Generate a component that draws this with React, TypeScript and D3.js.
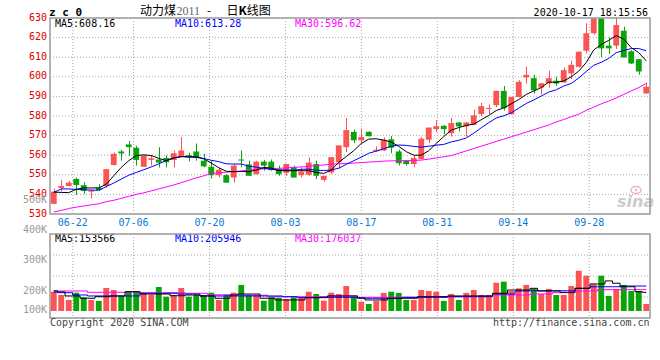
import React from "react";
import * as d3 from "d3";

const dates = [
  "06-17","06-18","06-19","06-22","06-23","06-24","06-29","06-30","07-01","07-02","07-03",
  "07-06","07-07","07-08","07-09","07-10","07-13","07-14","07-15","07-16","07-17",
  "07-20","07-21","07-22","07-23","07-24","07-27","07-28","07-29","07-30","07-31",
  "08-03","08-04","08-05","08-06","08-07","08-10","08-11","08-12","08-13","08-14",
  "08-17","08-18","08-19","08-20","08-21","08-24","08-25","08-26","08-27","08-28",
  "08-31","09-01","09-02","09-03","09-04","09-07","09-08","09-09","09-10","09-11",
  "09-14","09-15","09-16","09-17","09-18","09-21","09-22","09-23","09-24","09-25",
  "09-28","09-29","09-30","10-09","10-12","10-13","10-14","10-15","10-16"
];

const openP = [
  535.2,543.3,544.3,547.9,544.7,541.4,543.4,544.3,555,561.9,
  565.5,563.8,554.1,557.6,557.8,558.6,557.6,559,560,561.9,
  557.2,554.1,549.8,549.8,548.6,557.8,555.3,550.3,556.7,556.7,
  552.9,551,553.8,549.8,550,555.5,547.4,551.2,556.4,564.1,
  571.9,567.6,571.9,562.1,562.4,568.1,561.9,557.2,555.5,558.1,
  567.9,573.3,575,571.2,576.7,574.7,575.5,581,583.8,585.5,
  592.8,581,589.7,599.7,599.3,594.5,596.7,598,597.1,601.7,
  605.1,613.3,622.2,629.8,615.9,615.9,623.5,613,609,591.5
];
const highP = [
  543,547.4,546.9,548.6,546.2,542.6,545.2,553,561.4,562.8,
  567.2,564.8,559.9,560,564.1,559.8,562.4,569.3,561.2,566,
  560.7,557.2,553.8,550.3,555.5,562.4,557.2,557.2,557.6,557.8,
  554.7,555.8,554.7,553.8,559,557.2,549.5,559,565,579,
  573.1,573.6,572.2,564.5,569,569.7,562.8,557.6,559.8,569.3,
  574.1,577.9,575.3,579,576.9,576.8,583.3,586.7,585.9,592.9,
  595.3,589.8,598.3,605.2,601,596.8,603.1,600,604.8,608.2,
  612.9,627.3,630,630,620.1,630,625.6,613.6,609.1,597.1
];
const lowP = [
  535,541.4,544,539.7,540.3,537.8,541.7,543.4,554.7,557.2,
  559.7,554.7,554,554.7,553.8,553.8,553.8,559,556.9,557.2,
  553.8,548.1,548.6,546,546,553.8,549.5,550.3,552.1,552.1,
  549.5,549.5,548.6,548.6,549.5,547.8,546.5,550.3,553,561.6,
  566.2,565.9,569.5,561.6,562.1,561,554.7,554.7,553.8,557.9,
  566.2,571.9,570.7,569.5,572.1,569.5,575.3,579.8,581,584.5,
  582.8,580.7,589.5,596.6,591.4,591,594.5,595.4,597,598.8,
  604.8,611.9,621.5,610,611.6,614.2,609.9,606.5,601,591.3
];
const closeP = [
  541.4,544.3,546,544.8,541.7,542,542.2,552.9,560.7,560.9,
  564.1,557.6,559.8,558.4,556.2,556.4,561,562.4,559,558.6,
  554.3,549.8,552.6,546,554.7,557.4,549.5,556.7,554.7,552.4,
  550.3,555.5,548.6,551.6,556.2,549.5,549.5,559,565,572.8,
  567.6,569.3,569.7,562.8,567.9,563.8,555.9,555.5,558.6,568.4,
  574.1,574.8,573.3,576.4,574.7,576.7,580.3,585,584.1,592.8,
  584.1,589.7,597.4,601,593.1,596.7,599.3,596.6,603.4,606.1,
  612.8,622.2,629.8,614.5,614.5,626.4,609.9,606.8,602.7,594.9
];

const ma5 = [
  541.2,541,540.9,542.6,543.3,543.3,543.3,545.2,549.5,553.8,
  557.2,559.8,560.2,559.8,558.4,557.2,558.6,559.3,559,559,
  558.1,556,553.6,551.8,551.6,551.7,551.6,552.4,553.8,553.4,
  552.1,552.1,552.1,552.1,552.1,551.2,550.7,552.4,556.4,559.3,
  562.3,566,568.2,568.4,567.7,566.7,564.5,561.8,560,560,
  562.3,566,569.5,572.8,574.1,575.2,575.9,578.1,580.3,582.8,
  584.1,586.2,588.4,591,592.8,594.5,597.3,597.2,597.9,600,
  602.9,607.3,613.7,616.5,618.6,621,619.2,614.9,612.3,608.16
];
const ma10 = [
  541,542.8,542.8,542.6,542.4,542.2,542.1,544,545.8,547.8,
  549.8,551.2,552.6,554,555.6,557.3,558.6,559.3,559.3,559.3,
  558.3,557.4,556.7,555.6,555.5,555.5,554.4,553.9,553.3,552.8,
  552.4,552.5,552.3,552.8,552.9,552.3,552.2,552.4,553.4,555.3,
  557.2,559,561,562.1,563.3,564.6,565.2,565,564.5,564.1,
  564.6,565.1,565.5,566.8,567.6,568.8,571.2,574,576.6,579,
  580.1,581.6,584,586.4,588.2,590.2,592.2,593.4,595.3,596.6,
  599.4,602.7,605.9,607.4,609.4,612.3,613.4,614.4,614.4,613.28
];
const ma30 = [
  531,531.8,532.8,533.5,534.1,534.7,535.2,536.3,537,538,
  539,540,540.8,541.8,542.8,543.8,544.8,546,547.2,548.4,
  549.5,550.6,551,551.3,551.6,552,552.4,552.8,553,553.2,
  553.3,553.5,553.8,554,554.3,554.8,555,555.4,555.6,555.8,
  556,556.2,556.5,556.7,557,557.1,557.2,557.2,557.3,557.5,
  558,558.6,559.2,559.8,561,562.2,563.4,564.6,565.8,567,
  568.2,569.4,570.6,571.8,573,574.2,575.4,577,578.2,579.6,
  580.9,582.9,584.5,586.2,587.6,589.2,591,592.8,594.5,596.62
];

const volume = [
  159000,132000,91000,151000,113000,91000,83000,190000,173000,124000,
  165000,165000,146000,132000,198000,118000,132000,190000,118000,132000,
  132000,151000,91000,132000,151000,215000,132000,132000,85000,113000,
  110000,97000,113000,113000,159000,140000,85000,151000,140000,206000,
  118000,77000,58000,83000,149000,159000,149000,91000,91000,173000,
  165000,159000,83000,140000,91000,149000,173000,132000,132000,233000,
  242000,165000,187000,215000,182000,140000,182000,132000,132000,206000,
  332000,291000,220000,291000,124000,182000,215000,165000,165000,58000
];
const volMa5 = [
  157000,157000,124000,124000,105000,105000,118000,118000,124000,124000,
  159000,159000,140000,140000,140000,140000,126000,126000,132000,132000,
  124000,124000,105000,105000,132000,140000,140000,140000,105000,105000,
  91000,91000,91000,91000,110000,110000,113000,124000,124000,124000,
  124000,107000,91000,91000,91000,105000,105000,105000,105000,118000,
  118000,118000,118000,124000,124000,124000,124000,124000,124000,146000,
  146000,173000,173000,173000,187000,165000,165000,165000,154000,154000,
  187000,187000,223000,223000,248000,229000,200000,200000,159000,153566
];
const volMa10 = [
  167000,151000,151000,132000,132000,124000,124000,124000,124000,124000,
  124000,124000,146000,146000,146000,146000,146000,140000,140000,140000,
  124000,124000,124000,124000,124000,124000,124000,124000,124000,124000,
  124000,118000,118000,110000,110000,110000,110000,113000,113000,113000,
  113000,105000,105000,105000,105000,105000,105000,113000,113000,113000,
  113000,113000,113000,118000,118000,118000,118000,118000,118000,140000,
  140000,140000,165000,165000,167000,167000,167000,167000,167000,167000,
  187000,187000,200000,200000,200000,200000,206000,206000,206000,205946
];
const volMa30 = [
  165000,165000,165000,165000,165000,154000,154000,154000,154000,154000,
  154000,154000,151000,151000,151000,151000,151000,151000,146000,146000,
  146000,134000,134000,134000,134000,130000,130000,130000,130000,118000,
  118000,118000,118000,118000,118000,118000,118000,124000,124000,124000,
  124000,113000,113000,113000,113000,113000,113000,113000,113000,113000,
  118000,118000,118000,118000,118000,118000,121000,121000,121000,132000,
  132000,132000,132000,132000,140000,140000,140000,151000,151000,151000,
  165000,165000,165000,176000,176000,176000,176000,176000,176000,176037
];

const priceTicks = [530, 540, 550, 560, 570, 580, 590, 600, 610, 620, 630];
const volTicks = [100000, 200000, 300000, 400000, 500000];
const volTickLabels = ["100K", "200K", "300K", "400K", "500K"];
const dateTicks = ["06-22", "07-06", "07-20", "08-03", "08-17", "08-31", "09-14", "09-28"];

const RED = "#fb5454";
const GREEN = "#0aa30a";
const GRID = "#a8a8a8";
const MONO = "'DejaVu Sans Mono', 'Liberation Mono', monospace";

export default function App() {
  const L = 50, R = 650, T = 18, B = 214;
  const VT = 234, VB = 318, VBASE = 311;

  const x = d3.scaleBand<string>().domain(dates).range([L, R]).paddingInner(0.22).paddingOuter(0.11);
  const bw = x.bandwidth();
  const cx = (i: number) => (x(dates[i]) as number) + bw / 2;
  const gridX = d3.scaleLinear().domain([0, dates.length - 1]).range([L, R]);
  const y = d3.scaleLinear().domain([530, 630]).range([B, T]);
  const yv = d3.scaleLinear().domain([0, 635000]).range([VBASE, VT]);
  const yvLab = d3.scaleLinear().domain([100000, 200000, 500000]).range([310, 290.7, 200]);

  const priceLine = (arr: number[]) =>
    d3.line<number>().x((_, i) => cx(i)).y((v) => y(v))(arr) || "";
  const volLine = (arr: number[]) =>
    d3.line<number>().x((_, i) => cx(i)).y((v) => yv(v)).curve(d3.curveStep)(arr) || "";

  const volGrid = [0.25, 0.5, 0.75].map((f) => VT + (VB - VT) * f);

  return (
    <svg width={660} height={360} style={{ position: "absolute", left: 0, top: 0, background: "#fff" }}>
      <defs>
        <clipPath id="mainClip"><rect x={L} y={T} width={R - L} height={B - T} /></clipPath>
        <clipPath id="volClip"><rect x={L} y={VT} width={R - L} height={VB - VT} /></clipPath>
      </defs>
      <rect x={0} y={0} width={660} height={360} fill="#fff" />

      {/* header */}
      <text x={49} y={16} fontFamily={MONO} fontWeight="bold" fontSize={11} fill="#000" style={{ whiteSpace: "pre" }}>z c 0</text>
      <text y={14.5} fontSize={12} fontFamily="'Noto Sans CJK SC', sans-serif" fill="#000">
        <tspan x={140}>动力煤</tspan>
        <tspan x={176.5} fontFamily="'Liberation Serif', serif" fill="#666">2011</tspan>
        <tspan x={207}>-</tspan>
        <tspan x={226.5}>日</tspan>
        <tspan fontWeight="bold">K</tspan>
        <tspan>线图</tspan>
      </text>
      <text x={648} y={15.5} textAnchor="end" fontFamily={MONO} fontSize={10} fill="#000">2020-10-17 18:15:56</text>

      {/* main grid */}
      {priceTicks.filter((p) => p > 530 && p < 630).map((p) => (
        <line key={"hg" + p} x1={L} x2={R} y1={y(p)} y2={y(p)} stroke={GRID} strokeDasharray="1,2" />
      ))}
      {dateTicks.map((d) => {
        const gx = gridX(dates.indexOf(d));
        return (
          <g key={"vg" + d}>
            <line x1={gx} x2={gx} y1={T} y2={B} stroke={GRID} strokeDasharray="1,2" />
            <line x1={gx} x2={gx} y1={VT} y2={VB} stroke={GRID} strokeDasharray="1,2" />
            <text x={gx} y={225.5} textAnchor="middle" fontFamily={MONO} fontSize={10} fill="#0a78d2">{d}</text>
          </g>
        );
      })}

      {/* price labels */}
      {priceTicks.map((p) => (
        <text key={"pl" + p} x={47} y={y(p) + 2.5} textAnchor="end" fontFamily={MONO} fontSize={10} fill="#e00000">{p}</text>
      ))}
      {volTicks.map((v, i) => (
        <text key={"vl" + v} x={47} y={yvLab(v) + 3} textAnchor="end" fontFamily={MONO} fontSize={10} fill="#9a9a9a">{volTickLabels[i]}</text>
      ))}

      {/* candles */}
      <g clipPath="url(#mainClip)">
        {dates.map((d, i) => {
          const up = closeP[i] >= openP[i];
          const col = up ? RED : GREEN;
          const top = y(Math.max(openP[i], closeP[i]));
          const bot = y(Math.min(openP[i], closeP[i]));
          const xc = Math.round(cx(i)) + 0.5;
          return (
            <g key={"c" + d}>
              <line x1={xc} x2={xc} y1={y(highP[i])} y2={y(lowP[i])} stroke={col} strokeWidth={1} />
              <rect x={x(d)} y={top} width={bw} height={Math.max(1, bot - top)} fill={col} />
            </g>
          );
        })}
        <path d={priceLine(ma30)} fill="none" stroke="#ff00ff" strokeWidth={1} />
        <path d={priceLine(ma10)} fill="none" stroke="#0000ff" strokeWidth={1} />
        <path d={priceLine(ma5)} fill="none" stroke="#000" strokeWidth={1} />
      </g>

      {/* sina watermark */}
      <g opacity={0.85}>
        <ellipse cx={636} cy={190} rx={5} ry={3.5} fill="none" stroke="#f0a8a8" strokeWidth={1.5} />
        <circle cx={636} cy={190} r={1.3} fill="#f0a8a8" />
        <text x={617} y={207} fontFamily="'DejaVu Sans', sans-serif" fontStyle="italic" fontWeight="bold" fontSize={16} fill="#c4c4c4">sina</text>
      </g>

      {/* main MA labels */}
      <text x={55} y={26.7} fontFamily={MONO} fontSize={10} fill="#000">MA5:{ma5[ma5.length - 1].toFixed(2)}</text>
      <text x={175} y={26.7} fontFamily={MONO} fontSize={10} fill="#0000ff">MA10:{ma10[ma10.length - 1].toFixed(2)}</text>
      <text x={295} y={26.7} fontFamily={MONO} fontSize={10} fill="#ff00ff">MA30:{ma30[ma30.length - 1].toFixed(2)}</text>

      {/* main border */}
      <rect x={L} y={T} width={R - L} height={B - T} fill="none" stroke="#999" strokeWidth={1.5} />

      {/* volume grid */}
      {volGrid.map((gy, i) => (
        <line key={"vhg" + i} x1={L} x2={R} y1={gy} y2={gy} stroke={GRID} strokeDasharray="1,2" />
      ))}
      <g clipPath="url(#volClip)">
        {dates.map((d, i) => {
          const up = closeP[i] >= openP[i];
          return (
            <rect key={"v" + d} x={x(d)} y={yv(volume[i])} width={bw} height={VBASE - yv(volume[i])} fill={up ? RED : GREEN} />
          );
        })}
        <path d={volLine(volMa30)} fill="none" stroke="#ff00ff" strokeWidth={1} />
        <path d={volLine(volMa10)} fill="none" stroke="#0000ff" strokeWidth={1} />
        <path d={volLine(volMa5)} fill="none" stroke="#000" strokeWidth={1} />
      </g>
      <text x={55} y={241.5} fontFamily={MONO} fontSize={10} fill="#000">MA5:{Math.round(volMa5[volMa5.length - 1])}</text>
      <text x={175} y={241.5} fontFamily={MONO} fontSize={10} fill="#0000ff">MA10:{Math.round(volMa10[volMa10.length - 1])}</text>
      <text x={295} y={241.5} fontFamily={MONO} fontSize={10} fill="#ff00ff">MA30:{Math.round(volMa30[volMa30.length - 1])}</text>
      <rect x={L} y={VT} width={R - L} height={VB - VT} fill="none" stroke="#999" strokeWidth={1.5} />

      {/* footer */}
      <text x={50} y={326} fontFamily={MONO} fontSize={10} fill="#444">Copyright 2020 SINA.COM</text>
      <text x={649.5} y={326} textAnchor="end" fontFamily={MONO} fontSize={10} fill="#444">http://finance.sina.com.cn</text>
    </svg>
  );
}
